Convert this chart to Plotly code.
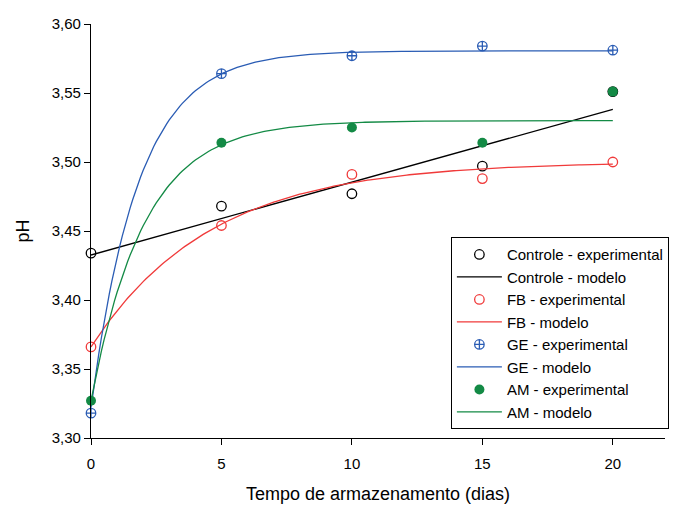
import numpy as np
import plotly.graph_objects as go

# Experimental data (days, pH)
dias = [0, 5, 10, 15, 20]
controle_exp = [3.434, 3.468, 3.477, 3.497, 3.551]
fb_exp = [3.366, 3.454, 3.491, 3.488, 3.500]
ge_exp = [3.318, 3.564, 3.577, 3.584, 3.581]
am_exp = [3.327, 3.514, 3.525, 3.514, 3.551]

# Model parameters
# linear: y = a + b*x
controle_modelo = [3.4326, 0.00528]
# exponential rise to max: y = y0 + a*(1 - exp(-b*x))
fb_modelo = [3.366, 0.1342, 0.2175]
ge_modelo = [3.322, 0.2586, 0.547]
am_modelo = [3.327, 0.203, 0.49]

x_tick_vals = [0, 5, 10, 15, 20]
y_tick_vals = [3.30, 3.35, 3.40, 3.45, 3.50, 3.55, 3.60]

BLACK = "#000000"
RED = "#f03a3a"
BLUE = "#2a5cb4"
GREEN = "#138a45"

xm = np.linspace(0, 20, 201)


def exp_model(p, x):
    return p[0] + p[1] * (1 - np.exp(-p[2] * x))


fig = go.Figure()

fig.add_trace(go.Scatter(x=dias, y=controle_exp, mode="markers", name="Controle - experimental",
                         marker=dict(symbol="circle-open", size=9.5, color=BLACK, line=dict(width=1.3)),
                         cliponaxis=False))
fig.add_trace(go.Scatter(x=xm, y=controle_modelo[0] + controle_modelo[1] * xm, mode="lines",
                         name="Controle - modelo", line=dict(color=BLACK, width=1.3)))
fig.add_trace(go.Scatter(x=dias, y=fb_exp, mode="markers", name="FB - experimental",
                         marker=dict(symbol="circle-open", size=9.5, color=RED, line=dict(width=1.3)),
                         cliponaxis=False))
fig.add_trace(go.Scatter(x=xm, y=exp_model(fb_modelo, xm), mode="lines",
                         name="FB - modelo", line=dict(color=RED, width=1.3)))
fig.add_trace(go.Scatter(x=dias, y=ge_exp, mode="markers", name="GE - experimental",
                         marker=dict(symbol="circle-cross-open", size=9.5, color=BLUE, line=dict(width=1.3)),
                         cliponaxis=False))
fig.add_trace(go.Scatter(x=xm, y=exp_model(ge_modelo, xm), mode="lines",
                         name="GE - modelo", line=dict(color=BLUE, width=1.3)))
fig.add_trace(go.Scatter(x=dias, y=am_exp, mode="markers", name="AM - experimental",
                         marker=dict(symbol="circle", size=10, color=GREEN),
                         cliponaxis=False))
fig.add_trace(go.Scatter(x=xm, y=exp_model(am_modelo, xm), mode="lines",
                         name="AM - modelo", line=dict(color=GREEN, width=1.3)))

font_family = "Arial, Liberation Sans, sans-serif"

# The page body has an 8px margin, so the figure is shrunk by that offset.
fig.update_layout(
    width=673, height=497,
    margin=dict(l=83, r=14, t=16, b=67),
    plot_bgcolor="white", paper_bgcolor="white",
    separators=",.",
    font=dict(family=font_family, size=15, color="black"),
    showlegend=True,
    legend=dict(
        x=0.627, y=0.485, xanchor="left", yanchor="top",
        bordercolor="black", borderwidth=1, bgcolor="white",
        font=dict(size=15, family=font_family),
        tracegroupgap=0, itemwidth=45,
    ),
    xaxis=dict(
        range=[0, 22], tickvals=x_tick_vals, showgrid=False, zeroline=False,
        showline=True, linecolor="black", linewidth=1.2, automargin=False,
        ticks="outside", ticklen=6, tickwidth=1.2, tickcolor="black",
        ticklabelstandoff=6,
        title=dict(text="Tempo de armazenamento (dias)", font=dict(size=18), standoff=16),
    ),
    yaxis=dict(
        range=[3.30, 3.60], tickvals=y_tick_vals, tickformat=".2f", showgrid=False, zeroline=False,
        showline=True, linecolor="black", linewidth=1.2, automargin=False,
        ticks="outside", ticklen=6, tickwidth=1.2, tickcolor="black",
        title=dict(text="pH", font=dict(size=18), standoff=17),
    ),
)

fig.write_html("out.html")
